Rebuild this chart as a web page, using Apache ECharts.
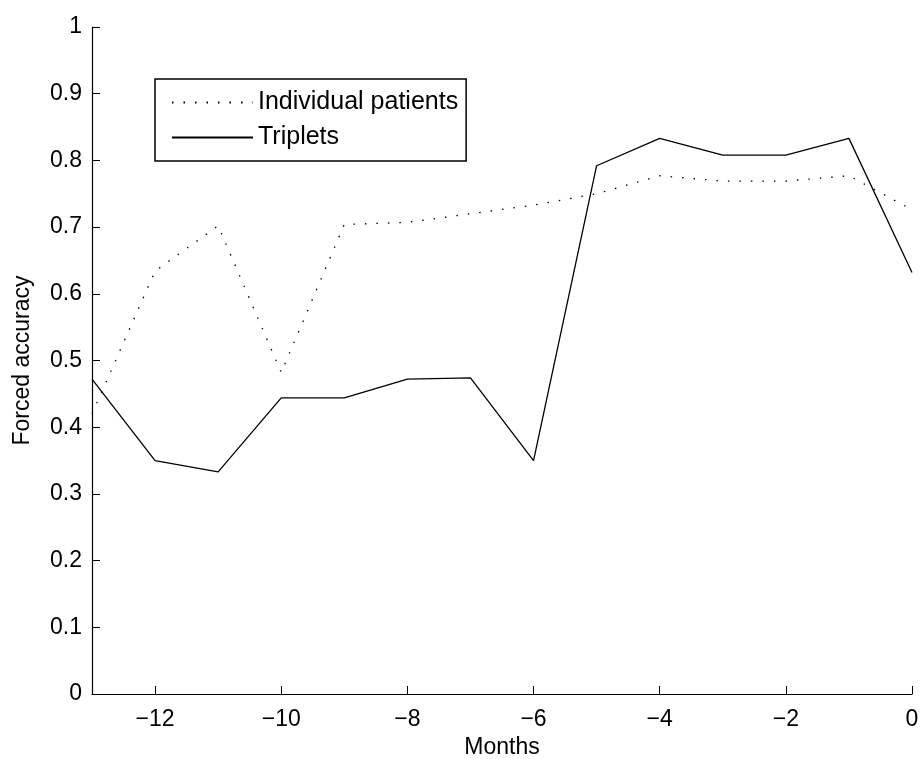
<!DOCTYPE html>
<html>
<head>
<meta charset="utf-8">
<style>
  html, body { margin: 0; padding: 0; background: #fff; }
  #chart { width: 920px; height: 759px; }
</style>
<script src="https://cdn.jsdelivr.net/npm/echarts@6/dist/echarts.min.js"></script>
</head>
<body>
<div id="chart"></div>
<script>
// Month offsets and the two accuracy series
const months = [-13, -12, -11, -10, -9, -8, -7, -6, -5, -4, -3, -2, -1, 0];
const individualPatients = [0.42, 0.634, 0.702, 0.482, 0.704, 0.707, 0.72, 0.733, 0.75, 0.777, 0.769, 0.769, 0.777, 0.726];
const triplets = [0.472, 0.35, 0.333, 0.444, 0.444, 0.472, 0.474, 0.35, 0.792, 0.833, 0.808, 0.808, 0.833, 0.632];
const xTicks = [-12, -10, -8, -6, -4, -2, 0];
const yTicks = [0, 0.1, 0.2, 0.3, 0.4, 0.5, 0.6, 0.7, 0.8, 0.9, 1];

const FONT = '"Liberation Sans", Arial, Helvetica, sans-serif';
const FS = 23;
const DOTTED = [1.5, 10];
const chart = echarts.init(document.getElementById('chart'), null, { renderer: 'canvas' });

const toPairs = vals => months.map((m, i) => [m, vals[i]]);

chart.setOption({
  animation: false,
  backgroundColor: '#fff',
  grid: { left: 92, right: 8, top: 27, bottom: 65, containLabel: false, outerBoundsMode: 'none' },
  legend: {
    left: 155, top: 79,
    orient: 'vertical',
    itemWidth: 81, itemHeight: 14, itemGap: 10,
    padding: [11, 8, 11, 16],
    borderColor: '#000', borderWidth: 1.5,
    backgroundColor: '#fff',
    itemStyle: { opacity: 0 },
    textStyle: { fontFamily: FONT, fontSize: 25, color: '#000' },
    data: ['Individual patients', 'Triplets']
  },
  xAxis: {
    type: 'value', min: -13, max: 0,
    name: 'Months', nameLocation: 'middle', nameGap: 41,
    nameTextStyle: { fontFamily: FONT, fontSize: FS, color: '#000' },
    axisLine: { lineStyle: { color: '#000', width: 1.2 } },
    axisTick: { inside: true, length: 8, lineStyle: { color: '#000', width: 1 }, customValues: xTicks },
    axisLabel: {
      customValues: xTicks, margin: 14,
      fontFamily: FONT, fontSize: FS, color: '#000',
      formatter: v => String(v).replace('-', '\u2212')
    },
    splitLine: { show: false }
  },
  yAxis: {
    type: 'value', min: 0, max: 1, interval: 0.1, position: 'left',
    name: 'Forced accuracy', nameLocation: 'middle', nameGap: 58, nameRotate: 90,
    nameTextStyle: { fontFamily: FONT, fontSize: FS, color: '#000' },
    axisLine: { show: true, onZero: false, lineStyle: { color: '#000', width: 1.2 } },
    axisTick: { show: true, inside: true, length: 8, lineStyle: { color: '#000', width: 1 } },
    axisLabel: {
      margin: 10, fontFamily: FONT, fontSize: FS, color: '#000',
      formatter: v => String(Math.round(v * 10) / 10)
    },
    splitLine: { show: false }
  },
  series: [
    {
      name: 'Individual patients', type: 'line', data: toPairs(individualPatients),
      symbol: 'none', lineStyle: { color: '#000', width: 1.3, type: DOTTED },
      itemStyle: { color: '#000' }
    },
    {
      name: 'Triplets', type: 'line', data: toPairs(triplets),
      symbol: 'none', lineStyle: { color: '#000', width: 1.3, type: 'solid' },
      itemStyle: { color: '#000' }
    }
  ]
});
</script>
</body>
</html>
